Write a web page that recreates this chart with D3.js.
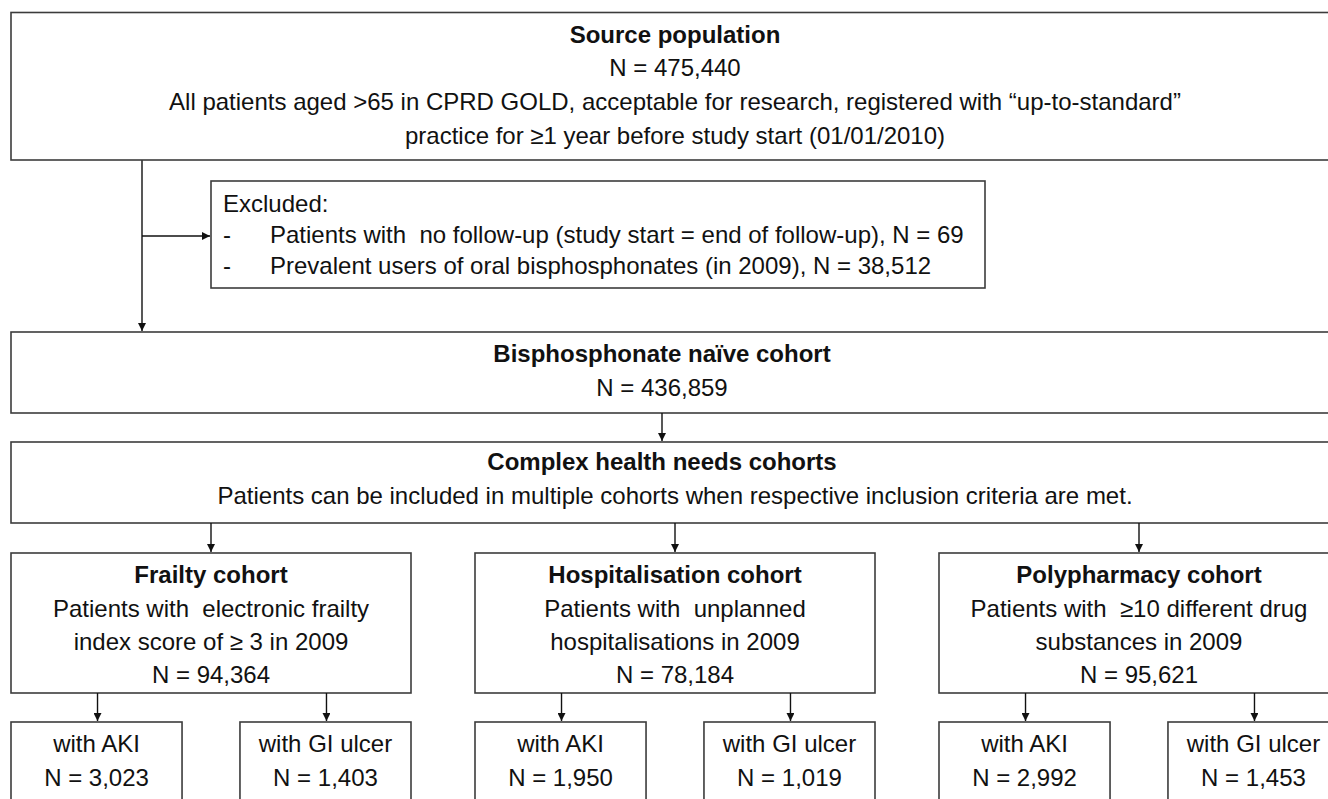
<!DOCTYPE html>
<html><head><meta charset="utf-8">
<script src="https://cdn.jsdelivr.net/npm/d3@7"></script>
<style>
body{margin:0;background:#fff;overflow:hidden}
text{font-family:"Liberation Sans",Arial,sans-serif;fill:#111}
</style>
</head><body>
<svg id="c" width="1328" height="799"></svg>
<script>
// ---- data ----
const sourceTitle = "Source population";
const sourceN = 475440;
const sourceLines = ["All patients aged >65 in CPRD GOLD, acceptable for research, registered with “up-to-standard”",
                     "practice for ≥1 year before study start (01/01/2010)"];
const excludedHeader = "Excluded:";
const excludedReasons = ["Patients with  no follow-up (study start = end of follow-up)",
                         "Prevalent users of oral bisphosphonates (in 2009)"];
const excludedN = [69, 38512];
const naiveTitle = "Bisphosphonate naïve cohort";
const naiveN = 436859;
const complexTitle = "Complex health needs cohorts";
const complexNote = "Patients can be included in multiple cohorts when respective inclusion criteria are met.";
const cohorts = ["Frailty cohort", "Hospitalisation cohort", "Polypharmacy cohort"];
const cohortCriteria = [["Patients with  electronic frailty", "index score of ≥ 3 in 2009"],
                        ["Patients with  unplanned", "hospitalisations in 2009"],
                        ["Patients with  ≥10 different drug", "substances in 2009"]];
const cohortN = [94364, 78184, 95621];
const outcomes = ["with AKI", "with GI ulcer"];
const outcomeN = [[3023, 1403], [1950, 1019], [2992, 1453]];

// ---- drawing ----
const fmt = d3.format(",");
const nLabel = v => "N = " + fmt(v);
const svg = d3.select("#c");
const FS = 24;
const boxStroke = "#3c3c3c";

svg.append("defs").append("marker")
  .attr("id", "arr").attr("viewBox", "0 0 10 10").attr("refX", 10).attr("refY", 5)
  .attr("markerWidth", 9).attr("markerHeight", 8).attr("markerUnits", "userSpaceOnUse")
  .attr("orient", "auto")
  .append("path").attr("d", "M0,0 L10,5 L0,10 Z").attr("fill", "#111");

function box(x, y, w, h) {
  svg.append("rect").attr("x", x).attr("y", y).attr("width", w).attr("height", h)
    .attr("fill", "#fff").attr("stroke", boxStroke).attr("stroke-width", 1.6);
}
function txt(x, y, s, opts = {}) {
  return svg.append("text").attr("x", x).attr("y", y)
    .attr("text-anchor", opts.anchor || "middle")
    .attr("font-size", opts.size || FS)
    .attr("font-weight", opts.bold ? "bold" : "normal")
    .style("white-space", "pre")
    .text(s);
}
function arrow(x1, y1, x2, y2) {
  svg.append("line").attr("x1", x1).attr("y1", y1).attr("x2", x2).attr("y2", y2)
    .attr("stroke", "#111").attr("stroke-width", 1.4).attr("marker-end", "url(#arr)");
}

const xL = 11, fullW = 1328;

// main vertical connector from source box to naive box
arrow(142, 160, 142, 331);
arrow(142, 236, 210, 236);

// Source box
box(xL, 12.5, fullW, 147.5);
txt(675, 43, sourceTitle, {bold: true});
txt(675, 76, nLabel(sourceN));
txt(675, 110, sourceLines[0]);
txt(675, 143.5, sourceLines[1]);

// Excluded box
box(211, 181, 774, 107);
txt(223, 212, excludedHeader, {anchor: "start"});
excludedReasons.forEach((r, i) => {
  txt(223, 243 + i * 31, "-", {anchor: "start"});
  txt(270, 243 + i * 31, r + ", " + nLabel(excludedN[i]), {anchor: "start"});
});

// Naive box
box(xL, 332, fullW, 81);
txt(662, 362, naiveTitle, {bold: true});
txt(662, 395.5, nLabel(naiveN));
arrow(662, 413, 662, 441);

// Complex box
box(xL, 442, fullW, 81);
txt(662, 470, complexTitle, {bold: true});
txt(675, 504, complexNote);

// cohort columns
const xCol = d3.scaleBand().domain(cohorts).range([xL, xL + fullW]).paddingInner(64 / 464).paddingOuter(0);
const xSub = d3.scaleBand().domain(outcomes).range([0, xCol.bandwidth()]).paddingInner(0.253).paddingOuter(0);

cohorts.forEach((c, i) => {
  const x0 = xCol(c), w = xCol.bandwidth(), cx = x0 + w / 2;
  arrow(cx, 523, cx, 552);
  box(x0, 553, w, 140);
  txt(cx, 583, c, {bold: true});
  txt(cx, 616.5, cohortCriteria[i][0]);
  txt(cx, 649.5, cohortCriteria[i][1]);
  txt(cx, 682.5, nLabel(cohortN[i]));
  outcomes.forEach((o, j) => {
    const sx = x0 + xSub(o), sw = xSub.bandwidth(), scx = sx + sw / 2;
    arrow(scx + 1, 693, scx + 1, 721);
    box(sx, 722, sw, 110);
    txt(scx, 752, o);
    txt(scx, 785.5, nLabel(outcomeN[i][j]));
  });
});
</script>
</body></html>
